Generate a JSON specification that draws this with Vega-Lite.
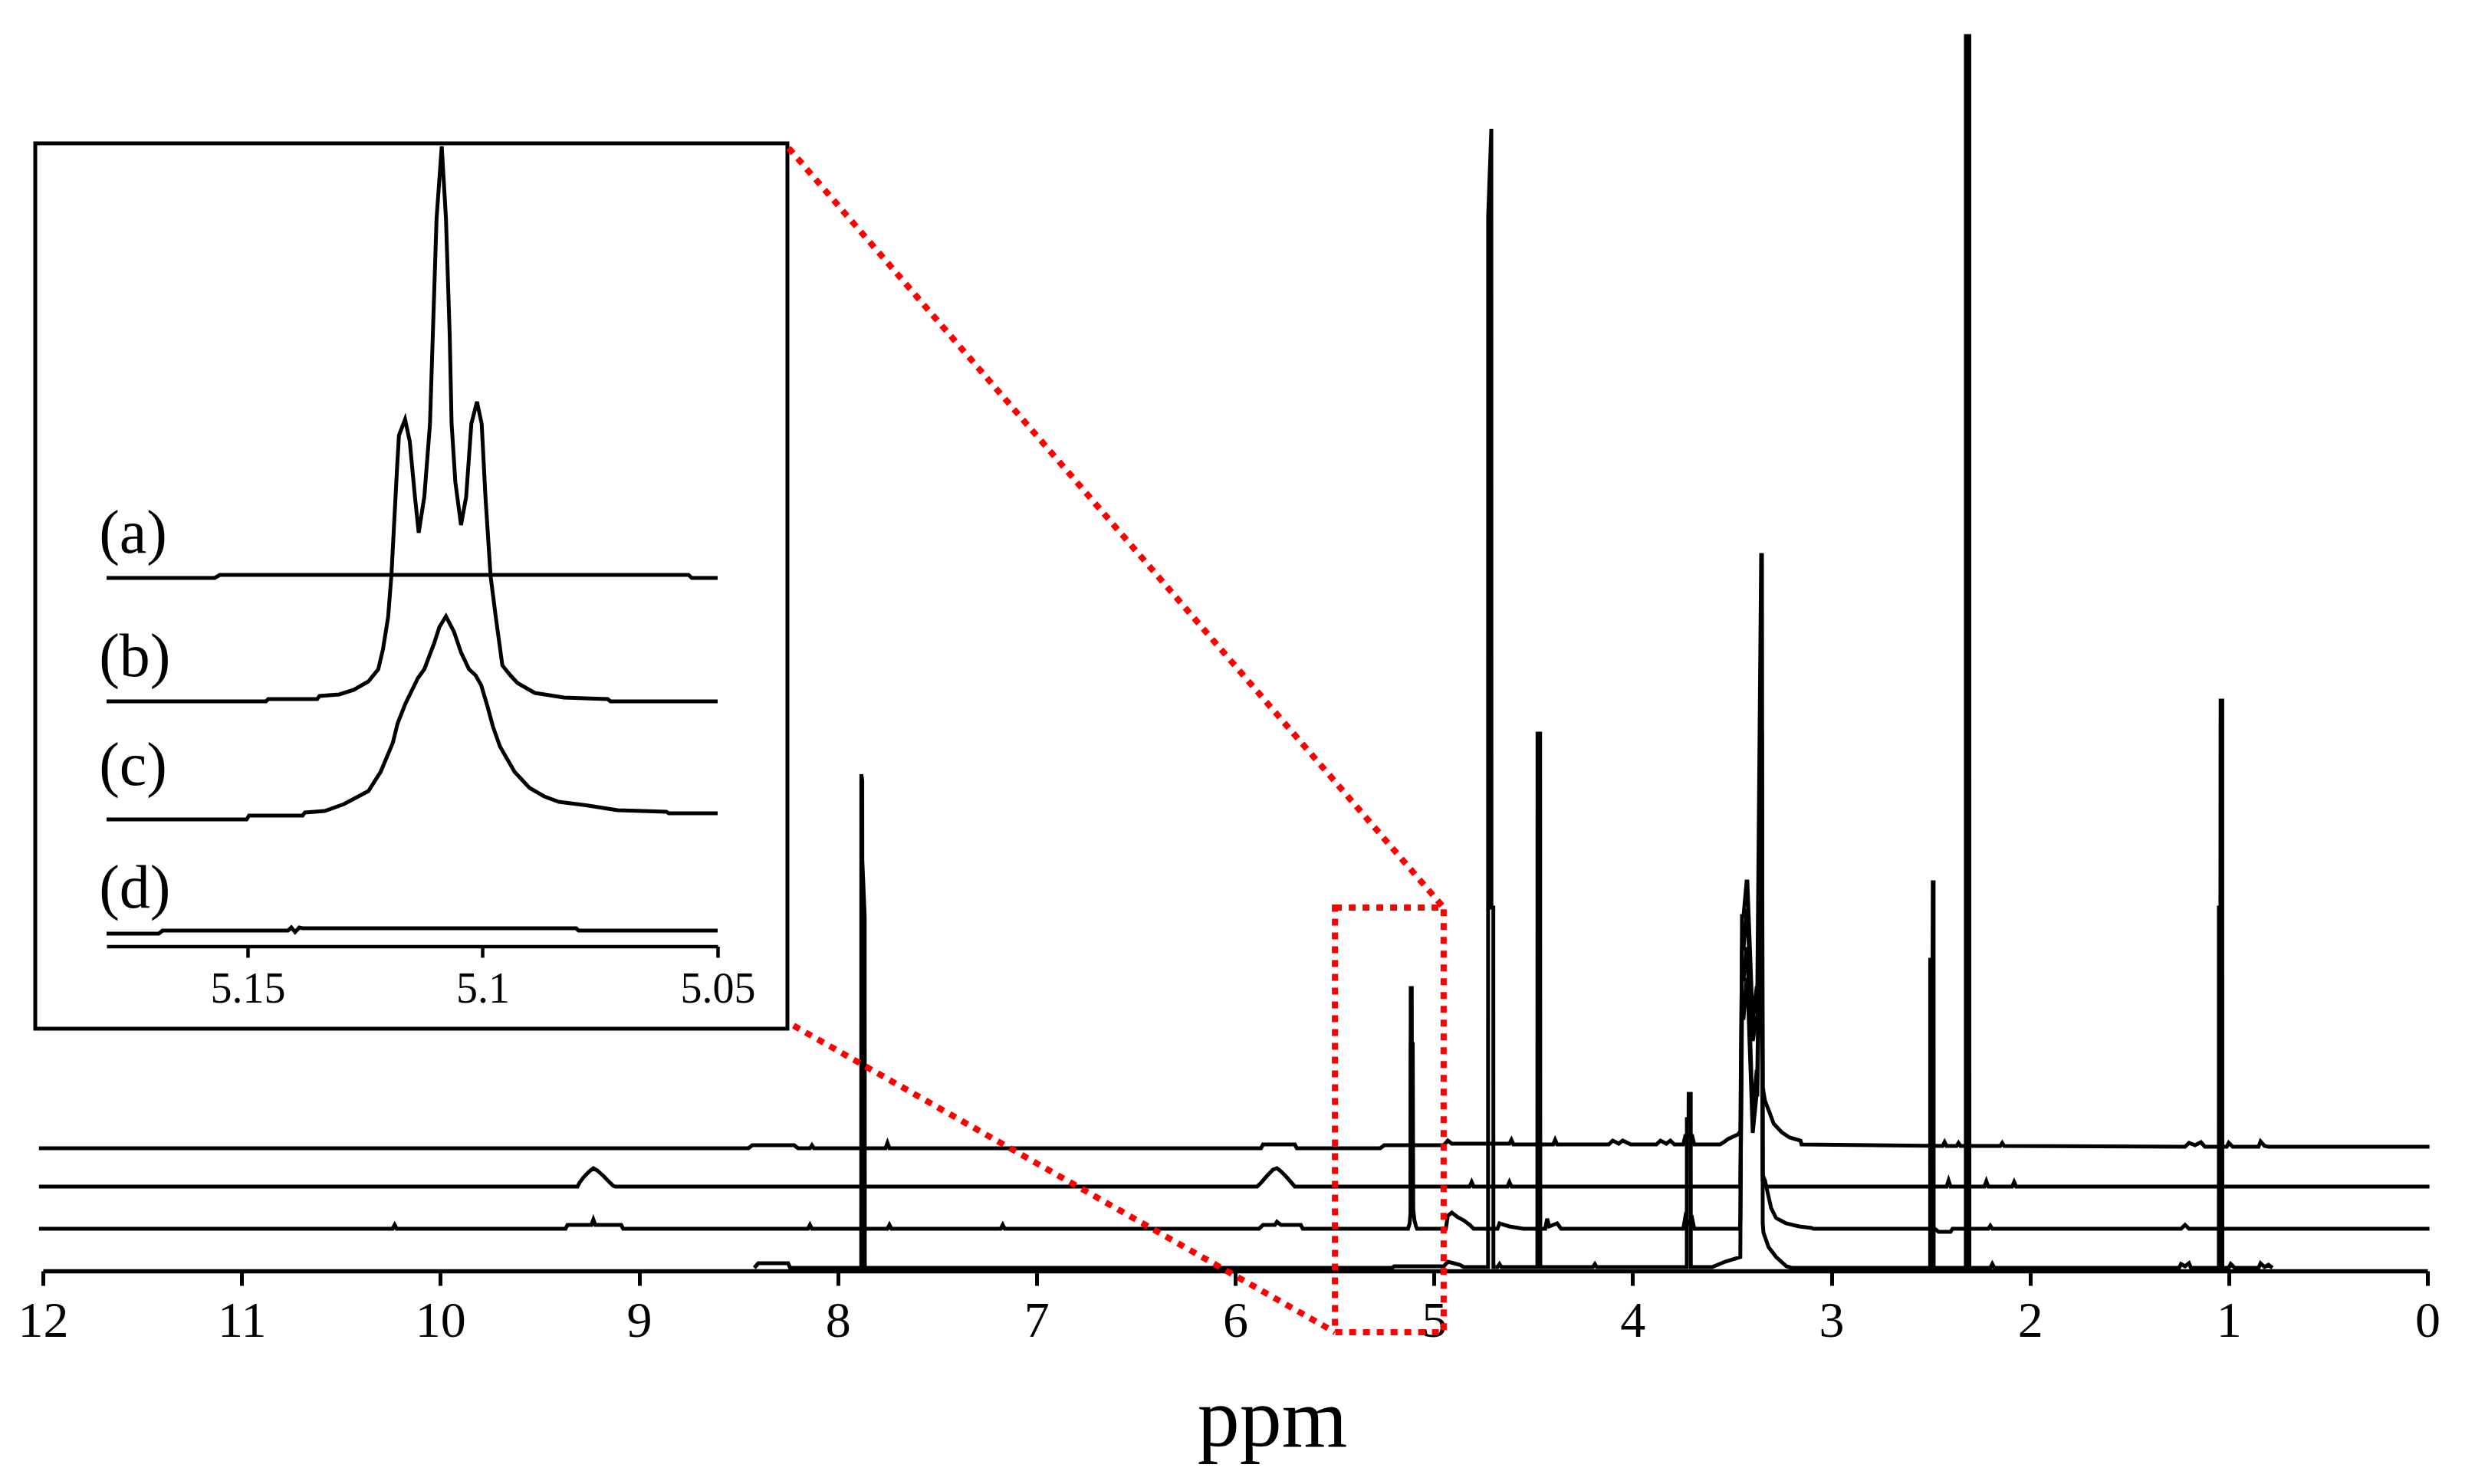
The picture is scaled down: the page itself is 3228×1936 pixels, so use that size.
{
  "$schema": "https://vega.github.io/schema/vega-lite/v6.json",
  "width": 3110,
  "height": 1658,
  "autosize": {"type": "none"},
  "padding": {"left": 56, "top": 0, "right": 62, "bottom": 278},
  "background": "white",
  "config": {
    "view": {"stroke": null},
    "font": "Liberation Serif",
    "axis": {"labelFont": "Liberation Serif", "titleFont": "Liberation Serif", "grid": false}
  },
  "datasets": {
    "main": [
      {"trace": "a", "ppm": 12.02, "v": 160}, {"trace": "a", "ppm": 8.45, "v": 160}, {"trace": "a", "ppm": 8.43, "v": 164}, {"trace": "a", "ppm": 8.22, "v": 164}, {"trace": "a", "ppm": 8.2, "v": 160},
      {"trace": "a", "ppm": 8.14, "v": 160}, {"trace": "a", "ppm": 8.13, "v": 164}, {"trace": "a", "ppm": 8.12, "v": 160},
      {"trace": "a", "ppm": 7.76, "v": 160}, {"trace": "a", "ppm": 7.75, "v": 167}, {"trace": "a", "ppm": 7.74, "v": 160},
      {"trace": "a", "ppm": 5.87, "v": 160}, {"trace": "a", "ppm": 5.86, "v": 165}, {"trace": "a", "ppm": 5.7, "v": 165}, {"trace": "a", "ppm": 5.69, "v": 160},
      {"trace": "a", "ppm": 5.27, "v": 160}, {"trace": "a", "ppm": 5.25, "v": 164}, {"trace": "a", "ppm": 4.95, "v": 164}, {"trace": "a", "ppm": 4.93, "v": 170}, {"trace": "a", "ppm": 4.91, "v": 166},
      {"trace": "a", "ppm": 4.62, "v": 166}, {"trace": "a", "ppm": 4.61, "v": 171}, {"trace": "a", "ppm": 4.6, "v": 165},
      {"trace": "a", "ppm": 4.4, "v": 165}, {"trace": "a", "ppm": 4.39, "v": 171}, {"trace": "a", "ppm": 4.38, "v": 165},
      {"trace": "a", "ppm": 4.12, "v": 165}, {"trace": "a", "ppm": 4.1, "v": 170}, {"trace": "a", "ppm": 4.07, "v": 166}, {"trace": "a", "ppm": 4.05, "v": 170}, {"trace": "a", "ppm": 4.01, "v": 165},
      {"trace": "a", "ppm": 3.88, "v": 165}, {"trace": "a", "ppm": 3.86, "v": 170}, {"trace": "a", "ppm": 3.83, "v": 166}, {"trace": "a", "ppm": 3.81, "v": 170}, {"trace": "a", "ppm": 3.79, "v": 165},
      {"trace": "a", "ppm": 3.745, "v": 165}, {"trace": "a", "ppm": 3.735, "v": 176}, {"trace": "a", "ppm": 3.7, "v": 176}, {"trace": "a", "ppm": 3.69, "v": 165},
      {"trace": "a", "ppm": 3.56, "v": 165}, {"trace": "a", "ppm": 3.54, "v": 168}, {"trace": "a", "ppm": 3.52, "v": 172}, {"trace": "a", "ppm": 3.47, "v": 178}, {"trace": "a", "ppm": 3.458, "v": 182},
      {"trace": "a", "ppm": 3.4496, "v": 420}, {"trace": "a", "ppm": 3.4419, "v": 420}, {"trace": "a", "ppm": 3.4264, "v": 470}, {"trace": "a", "ppm": 3.4226, "v": 470}, {"trace": "a", "ppm": 3.3955, "v": 300}, {"trace": "a", "ppm": 3.3762, "v": 330}, {"trace": "a", "ppm": 3.3724, "v": 330}, {"trace": "a", "ppm": 3.3531, "v": 700}, {"trace": "a", "ppm": 3.3492, "v": 700}, {"trace": "a", "ppm": 3.3453, "v": 240},
      {"trace": "a", "ppm": 3.334, "v": 222}, {"trace": "a", "ppm": 3.31, "v": 206}, {"trace": "a", "ppm": 3.29, "v": 192}, {"trace": "a", "ppm": 3.25, "v": 181}, {"trace": "a", "ppm": 3.21, "v": 174}, {"trace": "a", "ppm": 3.155, "v": 170}, {"trace": "a", "ppm": 3.15, "v": 165},
      {"trace": "a", "ppm": 2.44, "v": 163}, {"trace": "a", "ppm": 2.43, "v": 168}, {"trace": "a", "ppm": 2.42, "v": 163},
      {"trace": "a", "ppm": 2.37, "v": 163}, {"trace": "a", "ppm": 2.36, "v": 167}, {"trace": "a", "ppm": 2.35, "v": 163},
      {"trace": "a", "ppm": 2.15, "v": 163}, {"trace": "a", "ppm": 2.14, "v": 167}, {"trace": "a", "ppm": 2.13, "v": 163},
      {"trace": "a", "ppm": 1.22, "v": 162}, {"trace": "a", "ppm": 1.2, "v": 167}, {"trace": "a", "ppm": 1.17, "v": 164}, {"trace": "a", "ppm": 1.14, "v": 168}, {"trace": "a", "ppm": 1.12, "v": 162},
      {"trace": "a", "ppm": 1.01, "v": 162}, {"trace": "a", "ppm": 1.0, "v": 167}, {"trace": "a", "ppm": 0.98, "v": 162},
      {"trace": "a", "ppm": 0.85, "v": 162}, {"trace": "a", "ppm": 0.84, "v": 169}, {"trace": "a", "ppm": 0.82, "v": 163}, {"trace": "a", "ppm": 0.8, "v": 162}, {"trace": "a", "ppm": -0.01, "v": 162},

      {"trace": "b", "ppm": 12.02, "v": 110},
      {"trace": "b", "ppm": 9.31, "v": 110}, {"trace": "b", "ppm": 9.3, "v": 115}, {"trace": "b", "ppm": 9.28, "v": 122}, {"trace": "b", "ppm": 9.25, "v": 130}, {"trace": "b", "ppm": 9.23, "v": 134}, {"trace": "b", "ppm": 9.21, "v": 131}, {"trace": "b", "ppm": 9.18, "v": 124}, {"trace": "b", "ppm": 9.15, "v": 116}, {"trace": "b", "ppm": 9.13, "v": 111}, {"trace": "b", "ppm": 9.12, "v": 110},
      {"trace": "b", "ppm": 5.89, "v": 110}, {"trace": "b", "ppm": 5.87, "v": 115}, {"trace": "b", "ppm": 5.84, "v": 124}, {"trace": "b", "ppm": 5.81, "v": 132}, {"trace": "b", "ppm": 5.79, "v": 134}, {"trace": "b", "ppm": 5.77, "v": 130}, {"trace": "b", "ppm": 5.74, "v": 122}, {"trace": "b", "ppm": 5.71, "v": 113}, {"trace": "b", "ppm": 5.7, "v": 110},
      {"trace": "b", "ppm": 5.118, "v": 110}, {"trace": "b", "ppm": 5.1168, "v": 369}, {"trace": "b", "ppm": 5.1115, "v": 369}, {"trace": "b", "ppm": 5.11, "v": 110},
      {"trace": "b", "ppm": 4.82, "v": 110}, {"trace": "b", "ppm": 4.81, "v": 116}, {"trace": "b", "ppm": 4.8, "v": 110},
      {"trace": "b", "ppm": 4.63, "v": 110}, {"trace": "b", "ppm": 4.62, "v": 116}, {"trace": "b", "ppm": 4.61, "v": 110},
      {"trace": "b", "ppm": 3.458, "v": 110}, {"trace": "b", "ppm": 3.4496, "v": 380}, {"trace": "b", "ppm": 3.4419, "v": 380}, {"trace": "b", "ppm": 3.4264, "v": 420}, {"trace": "b", "ppm": 3.4226, "v": 420}, {"trace": "b", "ppm": 3.3955, "v": 200}, {"trace": "b", "ppm": 3.3762, "v": 260}, {"trace": "b", "ppm": 3.3724, "v": 260}, {"trace": "b", "ppm": 3.3531, "v": 600}, {"trace": "b", "ppm": 3.3492, "v": 600}, {"trace": "b", "ppm": 3.3453, "v": 118}, {"trace": "b", "ppm": 3.335, "v": 110},
      {"trace": "b", "ppm": 2.42, "v": 110}, {"trace": "b", "ppm": 2.41, "v": 118}, {"trace": "b", "ppm": 2.4, "v": 110},
      {"trace": "b", "ppm": 2.23, "v": 110}, {"trace": "b", "ppm": 2.22, "v": 117}, {"trace": "b", "ppm": 2.21, "v": 110},
      {"trace": "b", "ppm": 2.09, "v": 110}, {"trace": "b", "ppm": 2.08, "v": 116}, {"trace": "b", "ppm": 2.07, "v": 110},
      {"trace": "b", "ppm": -0.01, "v": 110},

      {"trace": "c", "ppm": 12.02, "v": 55},
      {"trace": "c", "ppm": 10.24, "v": 55}, {"trace": "c", "ppm": 10.23, "v": 60}, {"trace": "c", "ppm": 10.22, "v": 55},
      {"trace": "c", "ppm": 9.37, "v": 55}, {"trace": "c", "ppm": 9.36, "v": 60}, {"trace": "c", "ppm": 9.24, "v": 60}, {"trace": "c", "ppm": 9.23, "v": 67}, {"trace": "c", "ppm": 9.22, "v": 60}, {"trace": "c", "ppm": 9.09, "v": 60}, {"trace": "c", "ppm": 9.08, "v": 55},
      {"trace": "c", "ppm": 8.15, "v": 55}, {"trace": "c", "ppm": 8.14, "v": 60}, {"trace": "c", "ppm": 8.13, "v": 55},
      {"trace": "c", "ppm": 7.75, "v": 55}, {"trace": "c", "ppm": 7.74, "v": 60}, {"trace": "c", "ppm": 7.73, "v": 55},
      {"trace": "c", "ppm": 7.18, "v": 55}, {"trace": "c", "ppm": 7.17, "v": 60}, {"trace": "c", "ppm": 7.16, "v": 55},
      {"trace": "c", "ppm": 5.88, "v": 55}, {"trace": "c", "ppm": 5.86, "v": 60}, {"trace": "c", "ppm": 5.8, "v": 60}, {"trace": "c", "ppm": 5.79, "v": 64}, {"trace": "c", "ppm": 5.77, "v": 60}, {"trace": "c", "ppm": 5.67, "v": 60}, {"trace": "c", "ppm": 5.66, "v": 55},
      {"trace": "c", "ppm": 5.13, "v": 55}, {"trace": "c", "ppm": 5.122, "v": 62}, {"trace": "c", "ppm": 5.118, "v": 75}, {"trace": "c", "ppm": 5.116, "v": 296}, {"trace": "c", "ppm": 5.1065, "v": 296}, {"trace": "c", "ppm": 5.104, "v": 80}, {"trace": "c", "ppm": 5.098, "v": 66}, {"trace": "c", "ppm": 5.09, "v": 58}, {"trace": "c", "ppm": 5.085, "v": 55},
      {"trace": "c", "ppm": 4.94, "v": 55}, {"trace": "c", "ppm": 4.93, "v": 72}, {"trace": "c", "ppm": 4.91, "v": 76}, {"trace": "c", "ppm": 4.88, "v": 70}, {"trace": "c", "ppm": 4.85, "v": 66}, {"trace": "c", "ppm": 4.82, "v": 60}, {"trace": "c", "ppm": 4.8, "v": 55},
      {"trace": "c", "ppm": 4.68, "v": 55}, {"trace": "c", "ppm": 4.67, "v": 62}, {"trace": "c", "ppm": 4.62, "v": 58}, {"trace": "c", "ppm": 4.55, "v": 55},
      {"trace": "c", "ppm": 4.44, "v": 55}, {"trace": "c", "ppm": 4.43, "v": 68}, {"trace": "c", "ppm": 4.42, "v": 58}, {"trace": "c", "ppm": 4.38, "v": 62}, {"trace": "c", "ppm": 4.36, "v": 55},
      {"trace": "c", "ppm": 3.745, "v": 55}, {"trace": "c", "ppm": 3.735, "v": 70}, {"trace": "c", "ppm": 3.72, "v": 62}, {"trace": "c", "ppm": 3.7, "v": 68}, {"trace": "c", "ppm": 3.69, "v": 55},
      {"trace": "c", "ppm": 3.46, "v": 55}, {"trace": "c", "ppm": 3.458, "v": 70}, {"trace": "c", "ppm": 3.4496, "v": 330}, {"trace": "c", "ppm": 3.4419, "v": 330}, {"trace": "c", "ppm": 3.4264, "v": 380}, {"trace": "c", "ppm": 3.4226, "v": 380}, {"trace": "c", "ppm": 3.3955, "v": 180}, {"trace": "c", "ppm": 3.3762, "v": 230}, {"trace": "c", "ppm": 3.3724, "v": 230}, {"trace": "c", "ppm": 3.3531, "v": 500}, {"trace": "c", "ppm": 3.3492, "v": 500}, {"trace": "c", "ppm": 3.3453, "v": 125},
      {"trace": "c", "ppm": 3.334, "v": 118}, {"trace": "c", "ppm": 3.322, "v": 104}, {"trace": "c", "ppm": 3.303, "v": 82}, {"trace": "c", "ppm": 3.278, "v": 69}, {"trace": "c", "ppm": 3.228, "v": 62}, {"trace": "c", "ppm": 3.162, "v": 58}, {"trace": "c", "ppm": 3.1, "v": 56}, {"trace": "c", "ppm": 3.09, "v": 55},
      {"trace": "c", "ppm": 2.48, "v": 55}, {"trace": "c", "ppm": 2.46, "v": 51}, {"trace": "c", "ppm": 2.4, "v": 51}, {"trace": "c", "ppm": 2.39, "v": 55},
      {"trace": "c", "ppm": 2.21, "v": 55}, {"trace": "c", "ppm": 2.2, "v": 59}, {"trace": "c", "ppm": 2.19, "v": 55},
      {"trace": "c", "ppm": 1.24, "v": 55}, {"trace": "c", "ppm": 1.22, "v": 60}, {"trace": "c", "ppm": 1.2, "v": 55},
      {"trace": "c", "ppm": -0.01, "v": 55},

      {"trace": "d", "ppm": 8.42, "v": 4}, {"trace": "d", "ppm": 8.4, "v": 10}, {"trace": "d", "ppm": 8.25, "v": 10}, {"trace": "d", "ppm": 8.24, "v": 4},
      {"trace": "d", "ppm": 7.882, "v": 4}, {"trace": "d", "ppm": 7.8815, "v": 648}, {"trace": "d", "ppm": 7.877, "v": 640}, {"trace": "d", "ppm": 7.8765, "v": 536}, {"trace": "d", "ppm": 7.8645, "v": 462}, {"trace": "d", "ppm": 7.864, "v": 4},
      {"trace": "d", "ppm": 5.21, "v": 4}, {"trace": "d", "ppm": 5.2, "v": 6}, {"trace": "d", "ppm": 4.95, "v": 6}, {"trace": "d", "ppm": 4.93, "v": 12}, {"trace": "d", "ppm": 4.9, "v": 10}, {"trace": "d", "ppm": 4.87, "v": 8}, {"trace": "d", "ppm": 4.85, "v": 5},
      {"trace": "d", "ppm": 4.7275, "v": 5}, {"trace": "d", "ppm": 4.727, "v": 1375}, {"trace": "d", "ppm": 4.711, "v": 1490}, {"trace": "d", "ppm": 4.7105, "v": 474}, {"trace": "d", "ppm": 4.701, "v": 474}, {"trace": "d", "ppm": 4.7005, "v": 5},
      {"trace": "d", "ppm": 4.68, "v": 5}, {"trace": "d", "ppm": 4.67, "v": 9}, {"trace": "d", "ppm": 4.66, "v": 5},
      {"trace": "d", "ppm": 4.4795, "v": 5}, {"trace": "d", "ppm": 4.4785, "v": 701}, {"trace": "d", "ppm": 4.4655, "v": 701}, {"trace": "d", "ppm": 4.4645, "v": 5},
      {"trace": "d", "ppm": 4.2, "v": 5}, {"trace": "d", "ppm": 4.19, "v": 9}, {"trace": "d", "ppm": 4.18, "v": 5},
      {"trace": "d", "ppm": 3.7275, "v": 5}, {"trace": "d", "ppm": 3.727, "v": 198}, {"trace": "d", "ppm": 3.7185, "v": 198}, {"trace": "d", "ppm": 3.718, "v": 231}, {"trace": "d", "ppm": 3.7075, "v": 231}, {"trace": "d", "ppm": 3.707, "v": 5},
      {"trace": "d", "ppm": 3.6, "v": 5}, {"trace": "d", "ppm": 3.535, "v": 12}, {"trace": "d", "ppm": 3.458, "v": 18}, {"trace": "d", "ppm": 3.4496, "v": 463}, {"trace": "d", "ppm": 3.4419, "v": 463}, {"trace": "d", "ppm": 3.4264, "v": 508}, {"trace": "d", "ppm": 3.4226, "v": 508}, {"trace": "d", "ppm": 3.3955, "v": 325}, {"trace": "d", "ppm": 3.3762, "v": 369}, {"trace": "d", "ppm": 3.3724, "v": 369}, {"trace": "d", "ppm": 3.3531, "v": 934}, {"trace": "d", "ppm": 3.3492, "v": 934}, {"trace": "d", "ppm": 3.3453, "v": 62}, {"trace": "d", "ppm": 3.3416, "v": 50}, {"trace": "d", "ppm": 3.3157, "v": 31}, {"trace": "d", "ppm": 3.2771, "v": 18}, {"trace": "d", "ppm": 3.2258, "v": 6}, {"trace": "d", "ppm": 3.2, "v": 4},
      {"trace": "d", "ppm": 2.5027, "v": 4}, {"trace": "d", "ppm": 2.5024, "v": 406}, {"trace": "d", "ppm": 2.4905, "v": 406}, {"trace": "d", "ppm": 2.4895, "v": 507}, {"trace": "d", "ppm": 2.4853, "v": 507}, {"trace": "d", "ppm": 2.485, "v": 4},
      {"trace": "d", "ppm": 2.3232, "v": 4}, {"trace": "d", "ppm": 2.3229, "v": 1611}, {"trace": "d", "ppm": 2.3055, "v": 1611}, {"trace": "d", "ppm": 2.3052, "v": 4},
      {"trace": "d", "ppm": 2.2, "v": 4}, {"trace": "d", "ppm": 2.19, "v": 9}, {"trace": "d", "ppm": 2.18, "v": 4},
      {"trace": "d", "ppm": 1.25, "v": 4}, {"trace": "d", "ppm": 1.24, "v": 9}, {"trace": "d", "ppm": 1.22, "v": 6}, {"trace": "d", "ppm": 1.2, "v": 10}, {"trace": "d", "ppm": 1.19, "v": 4},
      {"trace": "d", "ppm": 1.0499, "v": 4}, {"trace": "d", "ppm": 1.0497, "v": 474}, {"trace": "d", "ppm": 1.042, "v": 474}, {"trace": "d", "ppm": 1.041, "v": 744}, {"trace": "d", "ppm": 1.0325, "v": 744}, {"trace": "d", "ppm": 1.0322, "v": 4},
      {"trace": "d", "ppm": 1.0, "v": 4}, {"trace": "d", "ppm": 0.99, "v": 9}, {"trace": "d", "ppm": 0.97, "v": 4}, {"trace": "d", "ppm": 0.85, "v": 4}, {"trace": "d", "ppm": 0.84, "v": 10}, {"trace": "d", "ppm": 0.82, "v": 5}, {"trace": "d", "ppm": 0.8, "v": 8}, {"trace": "d", "ppm": 0.78, "v": 4}
    ],
    "inset": [
      {"trace": "a", "ppm": 5.18, "v": 481}, {"trace": "a", "ppm": 5.157, "v": 481}, {"trace": "a", "ppm": 5.1559, "v": 485}, {"trace": "a", "ppm": 5.0562, "v": 485}, {"trace": "a", "ppm": 5.0555, "v": 481}, {"trace": "a", "ppm": 5.05, "v": 481},

      {"trace": "b", "ppm": 5.18, "v": 320}, {"trace": "b", "ppm": 5.1461, "v": 320}, {"trace": "b", "ppm": 5.1456, "v": 323}, {"trace": "b", "ppm": 5.1352, "v": 323}, {"trace": "b", "ppm": 5.1347, "v": 327}, {"trace": "b", "ppm": 5.1305, "v": 329}, {"trace": "b", "ppm": 5.1274, "v": 335}, {"trace": "b", "ppm": 5.1243, "v": 346}, {"trace": "b", "ppm": 5.1222, "v": 362}, {"trace": "b", "ppm": 5.1212, "v": 388}, {"trace": "b", "ppm": 5.1201, "v": 430}, {"trace": "b", "ppm": 5.1194, "v": 485}, {"trace": "b", "ppm": 5.1182, "v": 625}, {"trace": "b", "ppm": 5.1178, "v": 667}, {"trace": "b", "ppm": 5.1165, "v": 688}, {"trace": "b", "ppm": 5.1155, "v": 659}, {"trace": "b", "ppm": 5.1144, "v": 587}, {"trace": "b", "ppm": 5.1136, "v": 540}, {"trace": "b", "ppm": 5.1124, "v": 587}, {"trace": "b", "ppm": 5.1112, "v": 682}, {"trace": "b", "ppm": 5.1106, "v": 797}, {"trace": "b", "ppm": 5.1098, "v": 950}, {"trace": "b", "ppm": 5.1087, "v": 1044}, {"trace": "b", "ppm": 5.1078, "v": 950}, {"trace": "b", "ppm": 5.107, "v": 797}, {"trace": "b", "ppm": 5.1066, "v": 682}, {"trace": "b", "ppm": 5.1058, "v": 606}, {"trace": "b", "ppm": 5.1046, "v": 550}, {"trace": "b", "ppm": 5.1035, "v": 587}, {"trace": "b", "ppm": 5.1024, "v": 682}, {"trace": "b", "ppm": 5.1012, "v": 711}, {"trace": "b", "ppm": 5.1002, "v": 682}, {"trace": "b", "ppm": 5.0994, "v": 587}, {"trace": "b", "ppm": 5.0983, "v": 483}, {"trace": "b", "ppm": 5.0972, "v": 430}, {"trace": "b", "ppm": 5.0958, "v": 367}, {"trace": "b", "ppm": 5.0941, "v": 354}, {"trace": "b", "ppm": 5.0926, "v": 344}, {"trace": "b", "ppm": 5.0889, "v": 331}, {"trace": "b", "ppm": 5.0868, "v": 329}, {"trace": "b", "ppm": 5.0827, "v": 325}, {"trace": "b", "ppm": 5.0734, "v": 323}, {"trace": "b", "ppm": 5.0728, "v": 320}, {"trace": "b", "ppm": 5.05, "v": 320},

      {"trace": "c", "ppm": 5.18, "v": 166}, {"trace": "c", "ppm": 5.1502, "v": 166}, {"trace": "c", "ppm": 5.1497, "v": 171}, {"trace": "c", "ppm": 5.1383, "v": 171}, {"trace": "c", "ppm": 5.1378, "v": 175}, {"trace": "c", "ppm": 5.1336, "v": 177}, {"trace": "c", "ppm": 5.1295, "v": 186}, {"trace": "c", "ppm": 5.1243, "v": 203}, {"trace": "c", "ppm": 5.1217, "v": 228}, {"trace": "c", "ppm": 5.1191, "v": 266}, {"trace": "c", "ppm": 5.1181, "v": 291}, {"trace": "c", "ppm": 5.1165, "v": 316}, {"trace": "c", "ppm": 5.1138, "v": 350}, {"trace": "c", "ppm": 5.1124, "v": 362}, {"trace": "c", "ppm": 5.1103, "v": 396}, {"trace": "c", "ppm": 5.1092, "v": 417}, {"trace": "c", "ppm": 5.1078, "v": 431}, {"trace": "c", "ppm": 5.1061, "v": 411}, {"trace": "c", "ppm": 5.1046, "v": 384}, {"trace": "c", "ppm": 5.1029, "v": 362}, {"trace": "c", "ppm": 5.1015, "v": 354}, {"trace": "c", "ppm": 5.1003, "v": 341}, {"trace": "c", "ppm": 5.0989, "v": 312}, {"trace": "c", "ppm": 5.0978, "v": 287}, {"trace": "c", "ppm": 5.0963, "v": 261}, {"trace": "c", "ppm": 5.0932, "v": 228}, {"trace": "c", "ppm": 5.09, "v": 207}, {"trace": "c", "ppm": 5.0869, "v": 196}, {"trace": "c", "ppm": 5.0838, "v": 189}, {"trace": "c", "ppm": 5.0775, "v": 184}, {"trace": "c", "ppm": 5.0713, "v": 178}, {"trace": "c", "ppm": 5.0609, "v": 176}, {"trace": "c", "ppm": 5.0604, "v": 174}, {"trace": "c", "ppm": 5.05, "v": 174},

      {"trace": "d", "ppm": 5.18, "v": 17}, {"trace": "d", "ppm": 5.1689, "v": 17}, {"trace": "d", "ppm": 5.1681, "v": 21}, {"trace": "d", "ppm": 5.1414, "v": 21}, {"trace": "d", "ppm": 5.1407, "v": 25}, {"trace": "d", "ppm": 5.1399, "v": 19}, {"trace": "d", "ppm": 5.139, "v": 25}, {"trace": "d", "ppm": 5.1383, "v": 24}, {"trace": "d", "ppm": 5.0801, "v": 24}, {"trace": "d", "ppm": 5.0796, "v": 21}, {"trace": "d", "ppm": 5.05, "v": 21}
    ],
    "labels": [
      {"t": "(a)", "ppm": 5.1816, "v": 514},
      {"t": "(b)", "ppm": 5.1816, "v": 353},
      {"t": "(c)", "ppm": 5.1816, "v": 211},
      {"t": "(d)", "ppm": 5.1816, "v": 51}
    ],
    "box": [{"x1": 12.0386, "x2": 8.2534, "y1": 1471, "y2": 316}],
    "zoomrect": [{"x1": 5.498, "x2": 4.951, "y1": 474, "y2": -80}],
    "links": [
      {"x1": 8.2476, "y1": 1465, "x2": 4.951, "y2": 474},
      {"x1": 8.2225, "y1": 320, "x2": 5.498, "y2": -80}
    ]
  },
  "layer": [
    {
      "layer": [
        {
          "data": {"name": "main"},
          "mark": {"type": "line", "color": "black", "strokeWidth": 5, "clip": false},
          "encoding": {
            "x": {
              "field": "ppm", "type": "quantitative",
              "scale": {"domain": [12, 0], "nice": false, "zero": false},
              "axis": {
                "orient": "bottom",
                "values": [0, 1, 2, 3, 4, 5, 6, 7, 8, 9, 10, 11, 12],
                "format": "d",
                "title": "ppm",
                "titleFontSize": 110,
                "titleFontWeight": "normal",
                "titleColor": "black",
                "titleX": 1603,
                "titleY": 228,
                "titleBaseline": "alphabetic",
                "titleAlign": "center",
                "domainColor": "black",
                "domainWidth": 5.5,
                "tickColor": "black",
                "tickWidth": 5,
                "tickSize": 19,
                "labelFontSize": 66,
                "labelColor": "black",
                "labelPadding": 14,
                "labelFlush": false,
                "labelOverlap": false,
                "grid": false
              }
            },
            "y": {"field": "v", "type": "quantitative", "scale": {"domain": [0, 1658], "nice": false, "zero": false}, "axis": null},
            "detail": {"field": "trace"}
          }
        },
        {
          "data": {"name": "box"},
          "mark": {"type": "rect", "filled": false, "color": "black", "strokeWidth": 5, "clip": false},
          "encoding": {
            "x": {"field": "x1", "type": "quantitative"},
            "x2": {"field": "x2"},
            "y": {"field": "y1", "type": "quantitative", "axis": null},
            "y2": {"field": "y2"}
          }
        },
        {
          "data": {"name": "zoomrect"},
          "mark": {"type": "rect", "filled": false, "color": "#ff0000", "strokeWidth": 8, "strokeDash": [9, 9], "clip": false},
          "encoding": {
            "x": {"field": "x1", "type": "quantitative"},
            "x2": {"field": "x2"},
            "y": {"field": "y1", "type": "quantitative", "axis": null},
            "y2": {"field": "y2"}
          }
        },
        {
          "data": {"name": "links"},
          "mark": {"type": "rule", "color": "#ff0000", "strokeWidth": 8, "strokeDash": [9, 9], "clip": false},
          "encoding": {
            "x": {"field": "x1", "type": "quantitative"},
            "x2": {"field": "x2"},
            "y": {"field": "y1", "type": "quantitative", "axis": null},
            "y2": {"field": "y2"}
          }
        }
      ]
    },
    {
      "layer": [
        {
          "data": {"name": "inset"},
          "mark": {"type": "line", "color": "black", "strokeWidth": 5, "clip": false},
          "encoding": {
            "x": {
              "field": "ppm", "type": "quantitative",
              "scale": {"domain": [5.18, 5.05], "range": [83, 880], "nice": false, "zero": false},
              "axis": {
                "orient": "bottom",
                "offset": -423.5,
                "values": [5.15, 5.1, 5.05],
                "format": "~g",
                "title": null,
                "domainColor": "black",
                "domainWidth": 4.5,
                "tickColor": "black",
                "tickWidth": 4.5,
                "tickSize": 14.5,
                "labelFontSize": 56,
                "labelColor": "black",
                "labelPadding": 14,
                "labelFlush": false,
                "labelOverlap": false,
                "grid": false
              }
            },
            "y": {"field": "v", "type": "quantitative", "scale": {"domain": [0, 1045], "range": [1235, 190], "nice": false, "zero": false}, "axis": null},
            "detail": {"field": "trace"}
          }
        },
        {
          "data": {"name": "labels"},
          "mark": {"type": "text", "align": "left", "baseline": "alphabetic", "font": "Liberation Serif", "fontSize": 80, "color": "black", "clip": false},
          "encoding": {
            "x": {"field": "ppm", "type": "quantitative"},
            "y": {"field": "v", "type": "quantitative", "axis": null},
            "text": {"field": "t"}
          }
        }
      ]
    }
  ],
  "resolve": {
    "scale": {"x": "independent", "y": "independent"},
    "axis": {"x": "independent", "y": "independent"}
  }
}
